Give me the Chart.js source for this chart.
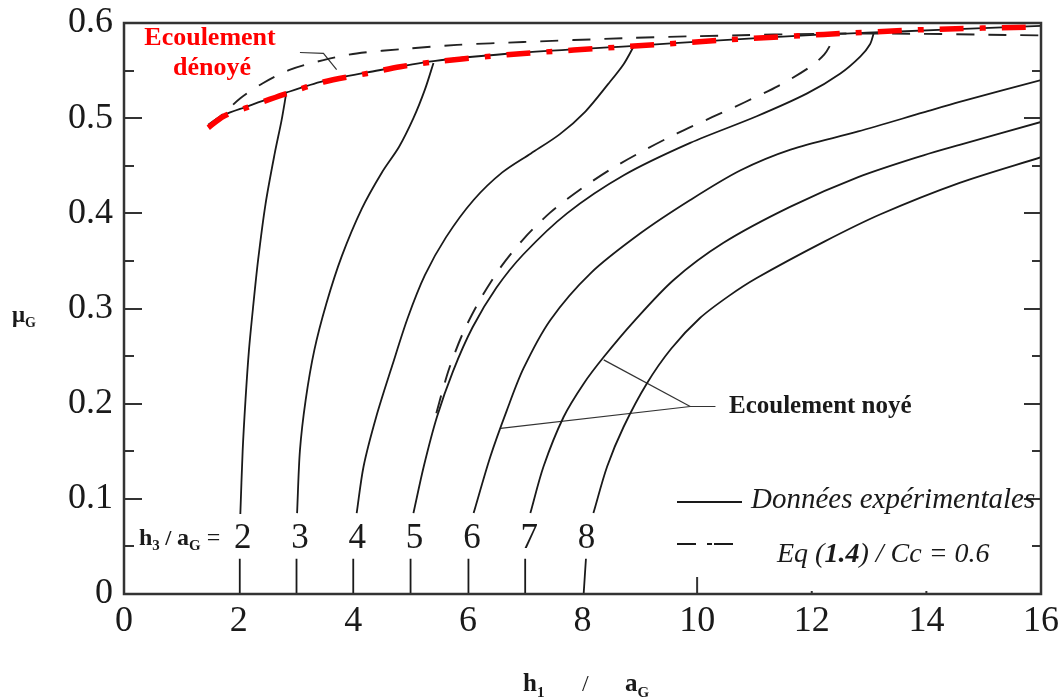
<!DOCTYPE html>
<html><head><meta charset="utf-8">
<script src="https://cdn.jsdelivr.net/npm/chart.js@4.4.1/dist/chart.umd.min.js"></script>
<style>html,body{margin:0;padding:0;background:#fff}canvas{display:block}</style>
</head><body>
<canvas id="c" width="1063" height="700"></canvas>
<script>
// ---------- data (x = h1/aG, y = muG) ----------
const xTickValues = [0, 2, 4, 6, 8, 10, 12, 14, 16];
const yTickValues = [0, 0.1, 0.2, 0.3, 0.4, 0.5, 0.6];
const h3Values = [2, 3, 4, 5, 6, 7, 8];

// submerged-flow experimental curves (null = gap where the h3 label sits)
const curveH3_2 = [[2.02,0],[2.02,0.037],null,[2.03,0.084],[2.07,0.15],[2.12,0.204],[2.18,0.256],[2.25,0.3],[2.34,0.351],[2.47,0.41],[2.63,0.463],[2.75,0.498],[2.83,0.526]];
const curveH3_3 = [[3.01,0],[3.01,0.037],null,[3.02,0.085],[3.07,0.151],[3.17,0.204],[3.32,0.256],[3.53,0.305],[3.8,0.355],[4.15,0.405],[4.5,0.443],[4.8,0.47],[5.05,0.5],[5.25,0.53],[5.40,0.558]];
const curveH3_4 = [[4.0,0],[4.0,0.037],null,[4.06,0.085],[4.18,0.134],[4.40,0.186],[4.68,0.24],[4.95,0.29],[5.25,0.335],[5.62,0.375],[6.1,0.414],[6.6,0.443],[7.1,0.463],[7.6,0.483],[8.05,0.507],[8.45,0.536],[8.72,0.557],[8.89,0.575]];
const curveH3_5 = [[5.0,0],[5.0,0.037],null,[5.05,0.085],[5.23,0.134],[5.46,0.186],[5.74,0.234],[6.08,0.28],[6.5,0.322],[6.97,0.357],[7.73,0.4],[8.72,0.44],[9.88,0.474],[11.04,0.502],[11.92,0.526],[12.5,0.547],[12.85,0.565],[13.02,0.578],[13.08,0.589]];
const curveH3_6 = [[6.01,0],[6.01,0.037],null,[6.10,0.085],[6.39,0.144],[6.68,0.193],[6.97,0.237],[7.44,0.288],[8.14,0.337],[9.01,0.379],[9.88,0.414],[10.75,0.445],[11.63,0.467],[12.81,0.486],[13.95,0.506],[14.58,0.517],[16,0.54]];
const curveH3_7 = [[7.0,0],[7.0,0.037],null,[7.09,0.085],[7.32,0.134],[7.67,0.186],[8.02,0.221],[8.37,0.249],[8.89,0.286],[9.59,0.33],[10.46,0.369],[11.63,0.407],[12.81,0.438],[13.95,0.461],[14.58,0.472],[16,0.496]];
const curveH3_8 = [[8.02,0],[8.06,0.037],null,[8.19,0.085],[8.43,0.134],[8.72,0.176],[9.12,0.221],[9.55,0.258],[10.05,0.29],[10.55,0.313],[11.04,0.332],[12.21,0.37],[13.2,0.399],[14.58,0.432],[16,0.459]];

// Eq (1.4) / Cc = 0.6, submerged h3/aG = 5
const eqH3_5 = [[5.45,0.19],[5.55,0.212],[5.68,0.238],[5.92,0.275],[6.22,0.31],[6.58,0.344],[6.97,0.373],[7.44,0.401],[7.96,0.425],[8.51,0.447],[9.10,0.467],[9.65,0.484],[10.26,0.501],[10.84,0.517],[11.42,0.534],[11.95,0.553],[12.22,0.567],[12.38,0.583]];

// free flow (écoulement dénoyé)
const freeFlowExp = [[1.47,0.491],[1.74,0.503],[2.14,0.512],[2.84,0.527],[3.48,0.539],[4.24,0.548],[5.40,0.56],[6.97,0.569],[8.89,0.576],[10.46,0.582],[12.21,0.588],[13.08,0.590],[16,0.597]];
const freeFlowEq = [[1.47,0.493],[1.74,0.505],[2.03,0.521],[2.43,0.537],[2.90,0.551],[3.48,0.561],[4.06,0.568],[4.94,0.573],[5.81,0.577],[6.97,0.580],[8.72,0.584],[9.88,0.586],[12.79,0.589],[16,0.587]];
const freeFlowRed = [[1.47,0.49],[1.74,0.502],[2.14,0.511],[2.55,0.52],[2.84,0.526],[3.48,0.538],[4.24,0.547],[4.82,0.554],[5.40,0.559],[6.39,0.565],[6.97,0.568],[8.72,0.575],[10.46,0.582],[12.21,0.588],[13.95,0.593],[16,0.596]];

// annotation leader lines
const leaderDenoye = [[3.07,0.569],[3.48,0.568],[3.71,0.551]];
const leaderNoyeA = [[6.57,0.174],[9.88,0.197],[10.32,0.197]];
const leaderNoyeB = [[8.37,0.246],[9.88,0.197]];

// ---------- helpers ----------
function toPts(arr) {
  const out = []; let last = null;
  for (const p of arr) {
    if (p === null) { out.push({x: last[0], y: null}); }
    else { out.push({x: p[0], y: p[1]}); last = p; }
  }
  return out;
}
const SERIF = "'Liberation Serif','Times New Roman',serif";
const INK = '#1a1a1a';

function solid(d, order) {
  return {data: toPts(d), borderColor: INK, borderWidth: 1.8, pointRadius: 0, tension: 0.3, fill: false, order: order};
}
function dashed(d, order) {
  return {data: toPts(d), borderColor: '#222', borderWidth: 1.9, borderDash: [18, 14], pointRadius: 0, tension: 0.3, fill: false, order: order};
}
function leader(d) {
  return {data: toPts(d), borderColor: '#333', borderWidth: 1.2, pointRadius: 0, tension: 0, fill: false, order: 5};
}

const datasets = [
  {data: toPts(freeFlowRed), borderColor: '#ff0000', borderWidth: 5.5, borderDash: [24, 16, 6, 16], borderCapStyle: 'butt', pointRadius: 0, tension: 0.3, fill: false, order: 0},
  solid(freeFlowExp, 2),
  dashed(freeFlowEq, 1),
  solid(curveH3_2, 3), solid(curveH3_3, 3), solid(curveH3_4, 3), solid(curveH3_5, 3),
  solid(curveH3_6, 3), solid(curveH3_7, 3), solid(curveH3_8, 3),
  dashed(eqH3_5, 3),
  leader(leaderDenoye), leader(leaderNoyeA), leader(leaderNoyeB)
];

function rich(ctx, x, y, parts) {
  for (const p of parts) {
    ctx.font = p.f;
    ctx.fillText(p.t, x, y + (p.dy || 0));
    x += ctx.measureText(p.t).width;
  }
  return x;
}
function seg(ctx, x1, y1, x2, y2) { ctx.beginPath(); ctx.moveTo(x1, y1); ctx.lineTo(x2, y2); ctx.stroke(); }

const decor = {
  id: 'decor',
  beforeDraw(chart) {
    const {ctx, width, height} = chart;
    ctx.save(); ctx.fillStyle = '#fff'; ctx.fillRect(0, 0, width, height); ctx.restore();
  },
  afterDraw(chart) {
    const {ctx, chartArea: a, scales: {x, y}} = chart;
    ctx.save();
    // inward ticks on left and right
    ctx.strokeStyle = '#333'; ctx.lineWidth = 2;
    for (let i = 0; i < yTickValues.length; i++) {
      const v = yTickValues[i];
      const py = Math.round(y.getPixelForValue(v));
      seg(ctx, a.left, py, a.left + 18, py);
      seg(ctx, a.right, py, a.right - 17, py);
      if (i < yTickValues.length - 1) {
        const pm = Math.round(y.getPixelForValue((v + yTickValues[i + 1]) / 2));
        seg(ctx, a.left, pm, a.left + 10, pm);
        seg(ctx, a.right, pm, a.right - 9, pm);
      }
    }
    // bottom inward ticks
    seg(ctx, x.getPixelForValue(10), a.bottom, x.getPixelForValue(10), a.bottom - 17);
    seg(ctx, x.getPixelForValue(12), a.bottom, x.getPixelForValue(12), a.bottom - 3);
    seg(ctx, x.getPixelForValue(14), a.bottom, x.getPixelForValue(14), a.bottom - 3);
    // frame
    ctx.strokeStyle = '#333'; ctx.lineWidth = 2.5;
    ctx.strokeRect(a.left, a.top, a.right - a.left, a.bottom - a.top);

    ctx.fillStyle = INK; ctx.textBaseline = 'alphabetic'; ctx.textAlign = 'left';
    // h3/aG = label
    rich(ctx, a.left + 15, 545, [
      {t: 'h', f: `bold 24px ${SERIF}`},
      {t: '3', f: `bold 15px ${SERIF}`, dy: 5},
      {t: ' / ', f: `bold 22px ${SERIF}`},
      {t: 'a', f: `bold 24px ${SERIF}`},
      {t: 'G', f: `bold 15px ${SERIF}`, dy: 5},
      {t: ' =', f: `24px ${SERIF}`}
    ]);
    // h3 value labels at each curve foot
    ctx.font = `35px ${SERIF}`; ctx.textAlign = 'center';
    for (const v of h3Values) ctx.fillText(String(v), x.getPixelForValue(v) + 4, 548);

    // Ecoulement dénoyé (red)
    ctx.fillStyle = '#ff0000'; ctx.font = `bold 26px ${SERIF}`;
    ctx.fillText('Ecoulement', 210, 45);
    ctx.fillText('dénoyé', 212, 75);

    // Ecoulement noyé
    ctx.fillStyle = INK; ctx.textAlign = 'left'; ctx.font = `bold 25px ${SERIF}`;
    ctx.fillText('Ecoulement noyé', 729, 413);

    // axis titles
    rich(ctx, 12, 322, [
      {t: 'μ', f: `bold 23px ${SERIF}`},
      {t: 'G', f: `bold 14px ${SERIF}`, dy: 5}
    ]);
    rich(ctx, 523, 691, [
      {t: 'h', f: `bold 25px ${SERIF}`},
      {t: '1', f: `bold 15px ${SERIF}`, dy: 6}
    ]);
    ctx.font = `24px ${SERIF}`; ctx.fillText('/', 582, 691);
    rich(ctx, 625, 691, [
      {t: 'a', f: `bold 25px ${SERIF}`},
      {t: 'G', f: `bold 15px ${SERIF}`, dy: 6}
    ]);

    // legend
    ctx.strokeStyle = INK; ctx.lineWidth = 2; ctx.setLineDash([]);
    seg(ctx, 677, 502, 742, 502);
    ctx.font = `italic 29px ${SERIF}`;
    ctx.fillText('Données expérimentales', 751, 508);
    ctx.setLineDash([19, 11, 5, 2]);
    seg(ctx, 677, 544, 735, 544);
    ctx.setLineDash([]);
    rich(ctx, 777, 562, [
      {t: 'Eq (', f: `italic 28px ${SERIF}`},
      {t: '1.4', f: `italic bold 28px ${SERIF}`},
      {t: ') / Cc = 0.6', f: `italic 28px ${SERIF}`}
    ]);
    ctx.restore();
  }
};

new Chart(document.getElementById('c'), {
  type: 'line',
  data: {datasets},
  options: {
    responsive: false,
    animation: false,
    devicePixelRatio: 1,
    events: [],
    layout: {padding: {left: 0, right: 22, top: 23, bottom: 0}},
    plugins: {legend: {display: false}, tooltip: {enabled: false}},
    scales: {
      x: {
        type: 'linear', min: 0, max: 16,
        afterBuildTicks: (s) => { s.ticks = xTickValues.map(v => ({value: v})); },
        afterFit: (s) => { s.height = 106; },
        grid: {display: false, drawTicks: true, tickLength: 6},
        border: {display: false},
        ticks: {autoSkip: false, maxRotation: 0, padding: 0, color: INK, font: {family: SERIF, size: 36}}
      },
      y: {
        type: 'linear', min: 0, max: 0.6,
        afterBuildTicks: (s) => { s.ticks = yTickValues.map(v => ({value: v})); },
        afterFit: (s) => { s.width = 124; },
        grid: {display: false, drawTicks: true, tickLength: 11},
        border: {display: false},
        ticks: {padding: 0, color: INK, font: {family: SERIF, size: 36},
          callback: (v) => (v === 0 ? '0' : Number(v).toFixed(1))}
      }
    }
  },
  plugins: [decor]
});
</script>
</body></html>
